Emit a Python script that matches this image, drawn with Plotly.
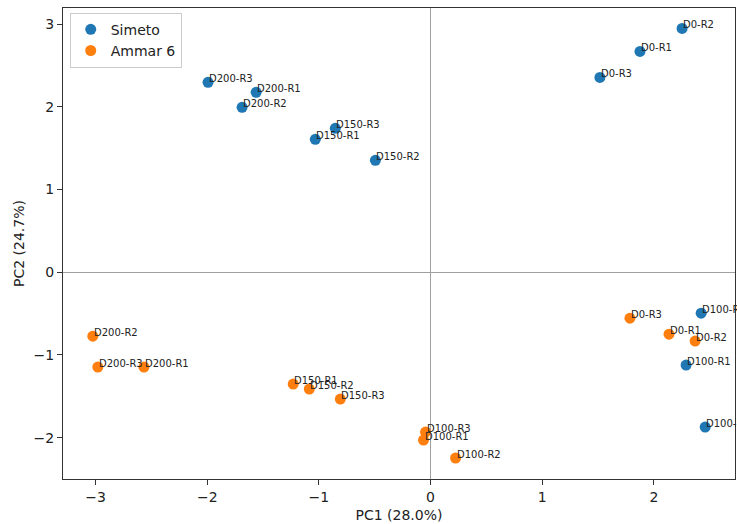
import plotly.graph_objects as go

# Data
simeto_labels = ["D0-R2", "D0-R1", "D0-R3", "D200-R3", "D200-R1", "D200-R2",
                 "D150-R3", "D150-R1", "D150-R2", "D100-R3", "D100-R1", "D100-R2"]
simeto_pc1 = [2.253, 1.876, 1.517, -1.993, -1.562, -1.688, -0.853, -1.032, -0.494, 2.424, 2.289, 2.460]
simeto_pc2 = [2.947, 2.669, 2.355, 2.295, 2.174, 1.993, 1.739, 1.606, 1.353, -0.495, -1.123, -1.872]

ammar_labels = ["D0-R3", "D0-R1", "D0-R2", "D200-R2", "D200-R3", "D200-R1",
                "D150-R1", "D150-R2", "D150-R3", "D100-R3", "D100-R1", "D100-R2"]
ammar_pc1 = [1.786, 2.136, 2.370, -3.025, -2.980, -2.567, -1.230, -1.086, -0.808, -0.045, -0.063, 0.224]
ammar_pc2 = [-0.556, -0.749, -0.833, -0.773, -1.147, -1.147, -1.353, -1.413, -1.534, -1.932, -2.029, -2.246]

series = [
    ("Simeto", "#1f77b4", simeto_pc1, simeto_pc2, simeto_labels),
    ("Ammar 6", "#ff7f0e", ammar_pc1, ammar_pc2, ammar_labels),
]

FONT = "DejaVu Sans"
fig = go.Figure()
annotations = []
for name, color, xs, ys, labs in series:
    fig.add_trace(go.Scatter(
        x=xs, y=ys, mode="markers", name=name,
        marker=dict(color=color, size=11, line=dict(width=0)),
    ))
    for x, y, t in zip(xs, ys, labs):
        annotations.append(dict(
            x=x, y=y, xref="x", yref="y", text=t, showarrow=False,
            xanchor="left", yanchor="bottom", yshift=-4, xshift=-1,
            font=dict(family=FONT, size=10, color="#222222"),
        ))

axis_common = dict(
    showgrid=False, zeroline=True, zerolinecolor="#a0a0a0", zerolinewidth=1,
    showline=True, linecolor="#333333", linewidth=1.2, mirror=True,
    ticks="outside", ticklen=5, tickwidth=1, tickcolor="#333333",
    tickfont=dict(family=FONT, size=14, color="#222222"),
    title_font=dict(family=FONT, size=14, color="#222222"),
)

fig.update_layout(
    width=737, height=524,
    margin=dict(l=63, r=2, t=8, b=45),
    paper_bgcolor="white", plot_bgcolor="white",
    font=dict(family=FONT, color="#222222"),
    annotations=annotations,
    xaxis=dict(range=[-3.292, 2.727], tickvals=[-3, -2, -1, 0, 1, 2],
               ticktext=["\u22123", "\u22122", "\u22121", "0", "1", "2"],
               title=dict(text="PC1 (28.0%)", standoff=6), **axis_common),
    yaxis=dict(range=[-2.5, 3.194], tickvals=[-2, -1, 0, 1, 2, 3],
               ticktext=["\u22122", "\u22121", "0", "1", "2", "3"],
               title=dict(text="PC2 (24.7%)", standoff=5), **axis_common),
    legend=dict(x=0.01, y=0.99, xanchor="left", yanchor="top",
                bgcolor="rgba(255,255,255,0.85)", bordercolor="#cccccc", borderwidth=1,
                font=dict(family=FONT, size=14, color="#222222"),
                itemwidth=30, tracegroupgap=0),
    showlegend=True,
)

fig.write_html("out.html")
